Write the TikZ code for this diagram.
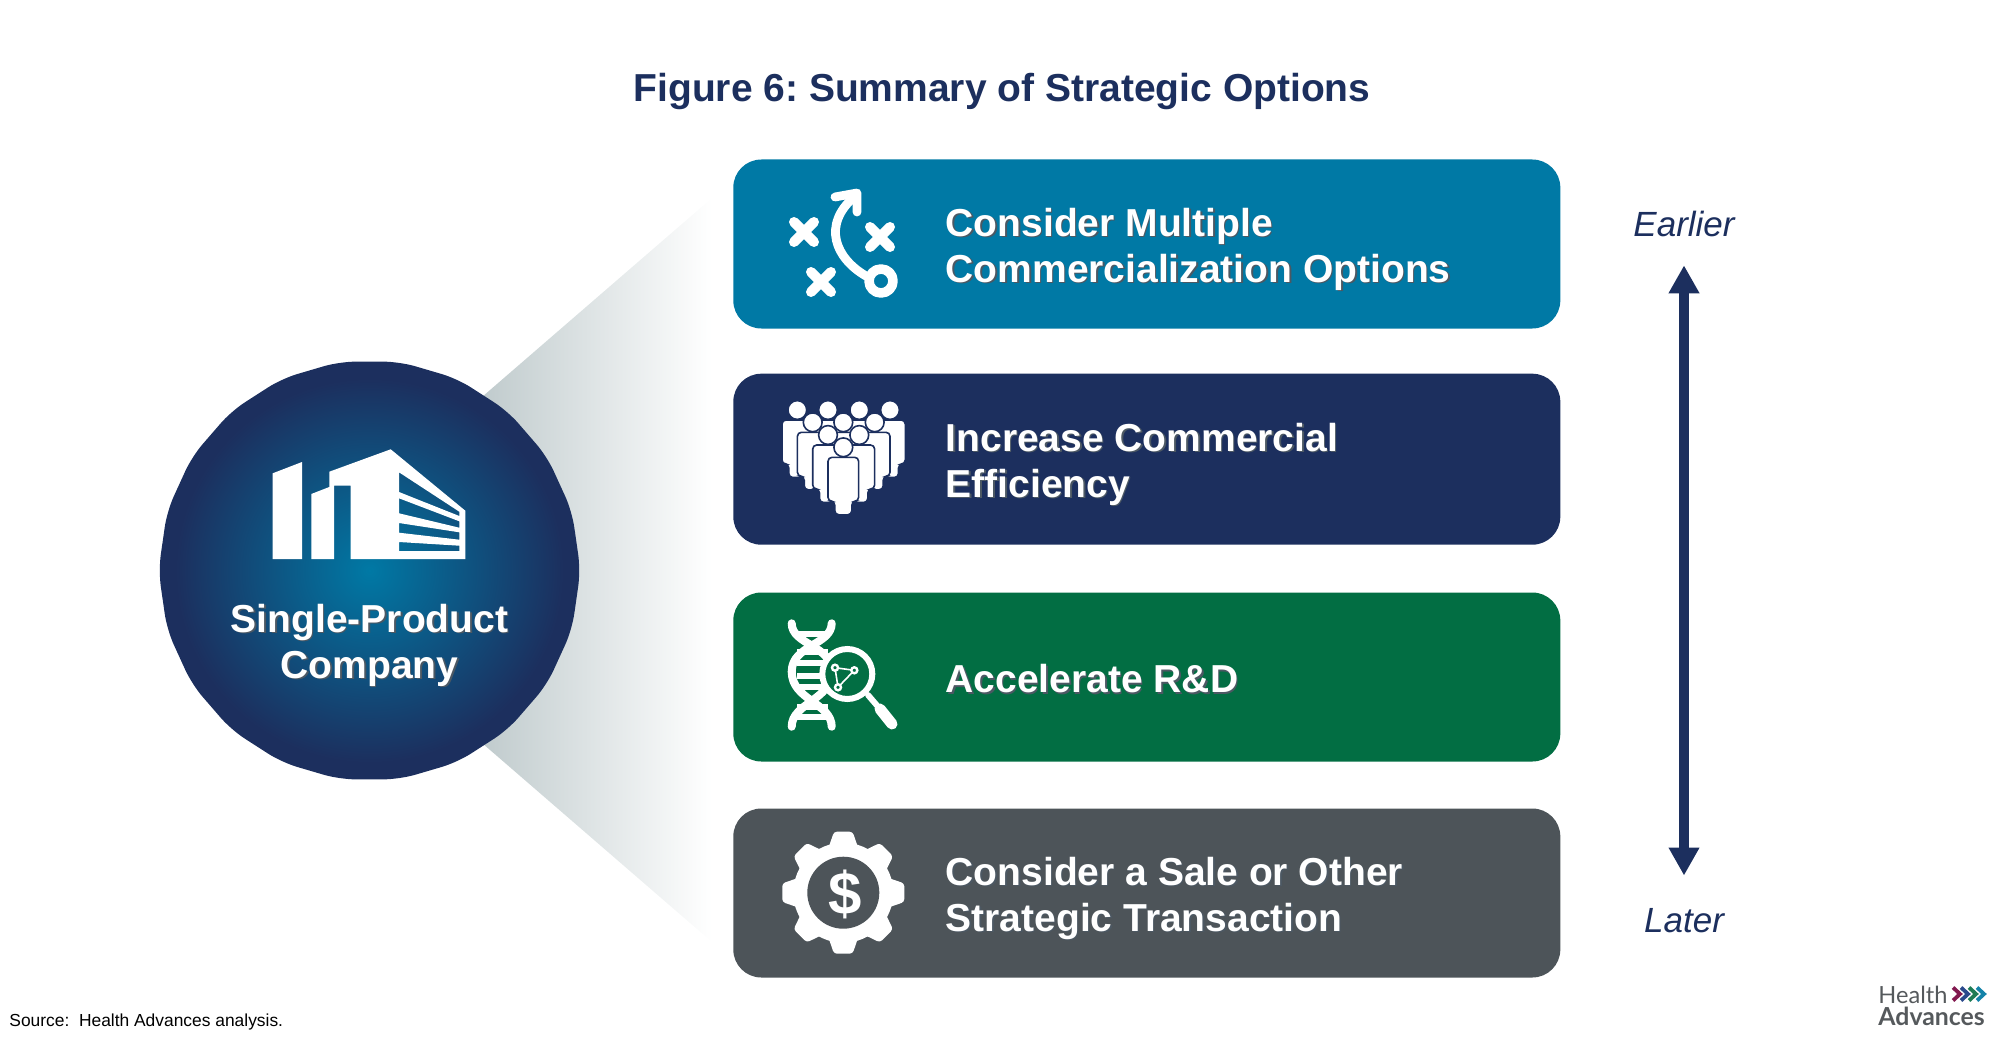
\documentclass[tikz,border=0pt]{standalone}
\usepackage{fontspec}
\setmainfont{Liberation Sans}
\newfontfamily\logofont{Lato}
\usetikzlibrary{shapes.geometric, arrows.meta, positioning}

\definecolor{navyblue}{HTML}{1C2F5E}
\definecolor{tealblue}{HTML}{0079A5}
\definecolor{forest}{HTML}{026E43}
\definecolor{slate}{HTML}{4D5459}
\definecolor{wedgegray}{HTML}{BAC6C8}
\definecolor{textshadow}{HTML}{10202F}
\definecolor{logogray}{HTML}{55595C}

\pgfdeclareradialshading{hubglow}{\pgfpoint{0bp}{0bp}}{color(0bp)=(tealblue); color(23bp)=(navyblue); color(50bp)=(navyblue)}

\newcommand{\softtext}[1]{\makebox[0pt][l]{\kern.7pt\raisebox{-.7pt}{\textcolor{textshadow!75}{#1}}}#1}

\begin{document}
\frenchspacing
\begin{tikzpicture}[
  x=0.5pt, y=-0.5pt,
  option/.style={rectangle, rounded corners=14pt, minimum width=413.5pt, minimum height=84.5pt, inner sep=0pt, outer sep=0pt},
  optiontext/.style={inner sep=0pt, align=left, yshift=-3pt, text=white, font=\fontsize{19.5}{23}\selectfont\bfseries},
  timetext/.style={inner sep=0pt, anchor=base, text=navyblue, font=\fontsize{17.5}{20}\selectfont\itshape},
  timeline/.style={draw=navyblue, line width=5pt, {Triangle[length=14pt, width=14.5pt]}-{Triangle[length=14pt, width=14.5pt]}},
  iconline/.style={draw=white, line cap=round, line join=round},
  crew/.pic={
    \draw[navyblue, fill=white, line width=0.8pt, rounded corners=2pt] (-8.5,67.5) -- (-8.5,54) -- (-15.3,54) -- (-15.3,10) -- (15.3,10) -- (15.3,54) -- (8.5,54) -- (8.5,67.5) -- cycle;
    \draw[navyblue, fill=white, line width=0.8pt] (0,0) circle (9.4);
  }
]
\useasboundingbox (0,0) rectangle (2000,1043);

% Wedge behind the company
\shade[left color=wedgegray, right color=white] (460,416) -- (712,198) -- (712,942) -- (460,724) -- cycle;

% Nodes
\node[inner sep=0pt, anchor=base, text=navyblue, font=\fontsize{19.5}{23}\selectfont\bfseries] (title) at (1002,102) {Figure 6: Summary of Strategic Options};

\node[regular polygon, regular polygon sides=22, minimum size=211pt, inner sep=0pt, rounded corners=8pt, shading=hubglow] (hub) at (369.5,570.5) {};
\node[inner sep=0pt, align=center, anchor=base, text=white, font=\fontsize{19.5}{23}\selectfont\bfseries] (hubtext) at (369.5,678) {\softtext{Single-Product}\\\softtext{Company}};

\node[option, fill=tealblue] (commercial) at (1146.8,244) {};
\node[option, fill=navyblue, minimum height=85.5pt, below=22.6pt of commercial] (efficiency) {};
\node[option, fill=forest, below=23.9pt of efficiency] (research) {};
\node[option, fill=slate, below=23.5pt of research] (transaction) {};

\node[optiontext, right=106pt of commercial.west] (commercialtext) {\softtext{Consider Multiple}\\\softtext{Commercialization Options}};
\node[optiontext, right=106pt of efficiency.west] (efficiencytext) {\softtext{Increase Commercial}\\\softtext{Efficiency}};
\node[optiontext, yshift=1.8pt, right=106pt of research.west] (researchtext) {\softtext{Accelerate R\&D}};
\node[optiontext, right=106pt of transaction.west] (transactiontext) {\softtext{Consider a Sale or Other}\\\softtext{Strategic Transaction}};

\node[timetext] (earlier) at (1684,236) {Earlier};
\node[timetext] (later) at (1684,932) {Later};

\node[inner sep=0pt, anchor=base west, font=\fontsize{8.7}{10}\selectfont] (source) at (9,1026) {Source:\ \ Health Advances analysis.};

\node[inner sep=0pt, anchor=base west, text=logogray, font=\logofont\fontsize{11.8}{12}\selectfont] (logotop) at (1878,1003) {Health};
\node[inner sep=0pt, anchor=base west, text=logogray, font=\logofont\bfseries\fontsize{12.4}{12}\selectfont] (logobottom) at (1878,1025.5) {Advances};

% Arrows
\draw[timeline, shorten <=14.3pt, shorten >=16pt] (earlier.south) -- (later.north);

% Building
\fill[white] (272.7,473.3) -- (302,462) -- (302,559) -- (272.7,559) -- cycle;
\fill[white, even odd rule] (311.3,494) -- (329.3,487) -- (329.3,471.7) -- (390.7,449.3) -- (465.3,510.7) -- (465.3,559) -- (350.7,559) -- (350.7,485.7) -- (334,485.7) -- (334,559) -- (311.3,559) -- cycle
  (399,472.3) -- (459.3,511.7) -- (459.3,516) -- (399,492) -- cycle
  (399,498.3) -- (459.3,521.3) -- (459.3,527.7) -- (399,513.3) -- cycle
  (399,523) -- (459.3,532.3) -- (459.3,539.7) -- (399,532.7) -- cycle
  (399,542) -- (459.3,545.7) -- (459.3,551) -- (399,551) -- cycle;

% Playbook icon
\foreach \x/\y in {804/232, 880/237, 821/282} {
  \draw[iconline, line width=5pt] (\x-10,\y-10) -- (\x+10,\y+10) (\x-10,\y+10) -- (\x+10,\y-10);
}
\draw[iconline, line width=4.8pt] (881,281) circle (12);
\draw[iconline, line width=4.4pt] (866,276) .. controls (835,258) and (822,225) .. (854,197);
\draw[iconline, line width=4.4pt] (835,197) -- (857,193) -- (857,212);

% Crowd icon
\foreach \x/\y in {797.3/410, 828/410, 859.3/410, 890/410, 812.7/422.3, 843.3/422.3, 874.7/422.3, 828/435, 859.3/435, 843.3/447.3} {
  \pic at (\x,\y) {crew};
}

% DNA icon
\draw[iconline, line width=4pt] (791.7,623.3) .. controls (791.7,645) and (831.7,645) .. (831.7,671.7) .. controls (831.7,700) and (791.7,703) .. (791.7,726.7);
\draw[iconline, line width=4pt] (831.7,623.3) .. controls (831.7,645) and (791.7,645) .. (791.7,671.7) .. controls (791.7,700) and (831.7,703) .. (831.7,726.7);
\foreach \y in {634, 652, 663, 676, 687, 707, 717} {
  \draw[white, line width=3pt] (797,\y) -- (828,\y);
}
\fill[forest] (847.3,674) circle (25);
\draw[white, line width=3pt] (847.3,674) circle (25);
\draw[iconline, line width=3pt] (868,695) -- (880,709);
\draw[iconline, line width=5.5pt] (880,709) -- (892,724);
\draw[white, line width=0.8pt] (835,667.7) -- (854.3,670.3) -- (838,687.3) -- cycle;
\foreach \x/\y in {835/667.7, 854.3/670.3, 838/687.3} {
  \draw[white, fill=forest, line width=1.2pt] (\x,\y) circle (3);
}

% Gear icon
\fill[white] (843.3,892.7) circle (50);
\foreach \a in {0,45,...,315} {
  \fill[white, rotate around={\a:(843.3,892.7)}, rounded corners=1.5pt] (827,852) -- (834,831.7) -- (852.6,831.7) -- (859.6,852) -- cycle;
}
\fill[slate] (843.3,892.7) circle (36);
\node[inner sep=0pt, text=white, font=\fontsize{30}{30}\selectfont\bfseries] (dollar) at (845,894) {\$};

% Logo arrows
\foreach \x/\c in {1953/82194F, 1961/2B4A8C, 1969/1E7B55, 1977/1482A8} {
  \definecolor{chevron}{HTML}{\c}
  \draw[chevron, line width=1.9pt] (\x,987.5) -- (\x+7,994) -- (\x,1000.5);
}

\end{tikzpicture}
\end{document}
